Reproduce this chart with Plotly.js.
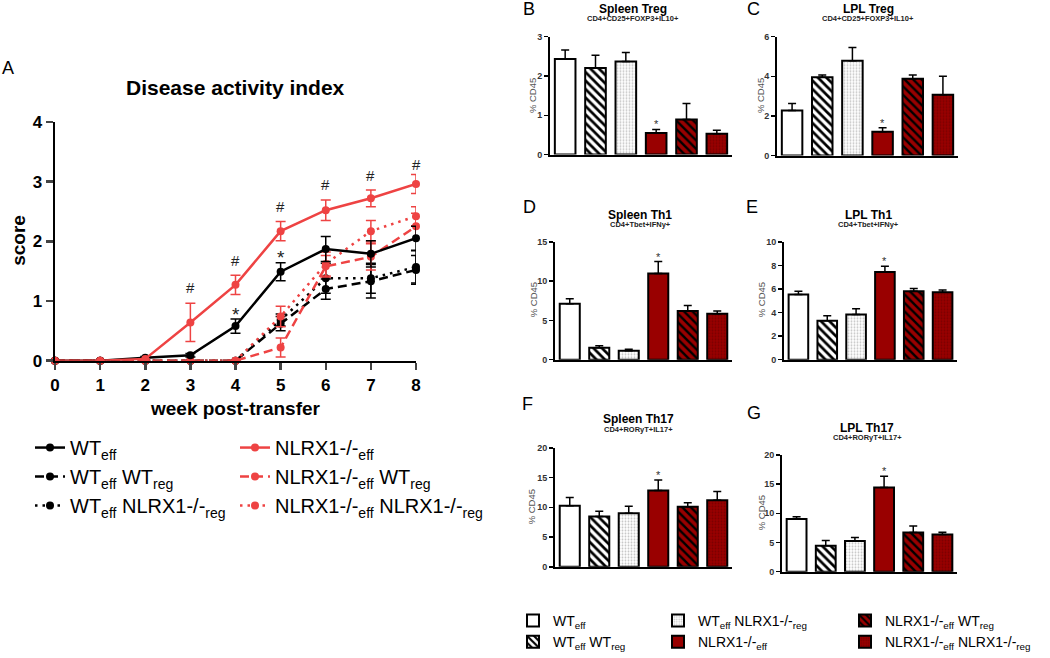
<!DOCTYPE html>
<html><head><meta charset="utf-8">
<script src="https://cdn.plot.ly/plotly-3.0.1.min.js"></script>
<style>html,body{margin:0;padding:0;background:#fff}#chart{width:1050px;height:658px}</style>
</head><body><div id="chart"></div>
<script>
// ---------------- DATA ----------------
// Panel A: disease activity index (mean ± SEM per week)
const weeks = [0, 1, 2, 3, 4, 5, 6, 7, 8];
const wtEff          = [0, 0, 0.05, 0.09, 0.58, 1.49, 1.87, 1.79, 2.05];
const wtEffSem       = [0, 0, 0.02, 0.03, 0.12, 0.15, 0.21, 0.22, 0.20];
const wtEffWtReg     = [0, 0, 0, 0, 0, 0.62, 1.20, 1.33, 1.52];
const wtEffWtRegSem  = [0, 0, 0, 0, 0, 0.12, 0.17, 0.28, 0.24];
const wtEffNlrxReg   = [0, 0, 0, 0, 0, 0.68, 1.38, 1.38, 1.57];
const wtEffNlrxRegSem= [0, 0, 0, 0, 0, 0.10, 0.25, 0.25, 0.27];
const nlrxEff        = [0, 0, 0.03, 0.64, 1.27, 2.17, 2.52, 2.72, 2.96];
const nlrxEffSem     = [0, 0, 0, 0.32, 0.16, 0.16, 0.17, 0.14, 0.16];
const nlrxEffWtReg   = [0, 0, 0, 0, 0, 0.22, 1.58, 1.74, 2.25];
const nlrxEffWtRegSem= [0, 0, 0, 0, 0, 0.16, 0.18, 0.22, 0.22];
const nlrxEffNlrxReg = [0, 0, 0, 0, 0, 0.74, 1.62, 2.17, 2.42];
const nlrxEffNlrxRegSem = [0, 0, 0, 0, 0, 0.17, 0.20, 0.18, 0.16];
const hashWeeks = [3, 4, 5, 6, 7, 8];
const hashY     = [1.23, 1.68, 2.59, 2.95, 3.11, 3.29];
const starWeeks = [4, 5];
const starY     = [0.86, 1.81];

// Panels B-G: % CD45 (mean, SEM) per group
const groups = [
  'WT<sub>eff</sub>',
  'WT<sub>eff</sub> WT<sub>reg</sub>',
  'WT<sub>eff</sub> NLRX1-/-<sub>reg</sub>',
  'NLRX1-/-<sub>eff</sub>',
  'NLRX1-/-<sub>eff</sub> WT<sub>reg</sub>',
  'NLRX1-/-<sub>eff</sub> NLRX1-/-<sub>reg</sub>'
];
const spleenTreg    = [2.43, 2.20, 2.37, 0.55, 0.89, 0.53];
const spleenTregSem = [0.23, 0.33, 0.23, 0.09, 0.41, 0.09];
const lplTreg       = [2.28, 3.95, 4.78, 1.20, 3.87, 3.07];
const lplTregSem    = [0.35, 0.12, 0.67, 0.20, 0.20, 0.93];
const spleenTh1     = [7.12, 1.51, 1.13, 10.98, 6.20, 5.86];
const spleenTh1Sem  = [0.63, 0.25, 0.21, 1.50, 0.71, 0.34];
const lplTh1        = [5.53, 3.30, 3.83, 7.43, 5.81, 5.73];
const lplTh1Sem     = [0.28, 0.42, 0.50, 0.50, 0.22, 0.19];
const spleenTh17    = [10.28, 8.44, 9.00, 12.83, 10.10, 11.20];
const spleenTh17Sem = [1.39, 0.89, 1.17, 1.77, 0.68, 1.47];
const lplTh17       = [9.01, 4.45, 5.24, 14.42, 6.70, 6.37];
const lplTh17Sem    = [0.40, 0.90, 0.62, 1.92, 1.13, 0.39];
const panelTitles    = ['Spleen Treg', 'LPL Treg', 'Spleen Th1', 'LPL Th1', 'Spleen Th17', 'LPL Th17'];
const panelSubtitles = ['CD4+CD25+FOXP3+IL10+', 'CD4+CD25+FOXP3+IL10+', 'CD4+Tbet+IFNy+', 'CD4+Tbet+IFNy+', 'CD4+RORyT+IL17+', 'CD4+RORyT+IL17+'];
const panelLetters   = ['B', 'C', 'D', 'E', 'F', 'G'];
const panelYMax      = [3, 6, 15, 10, 20, 20];
const panelYDtick    = [1, 2, 5, 2, 5, 5];
const sigGroup       = 3; // '*' above NLRX1-/- eff

// ---------------- LAYOUT HELPERS ----------------
const W = 1050, H = 658;
const px = v => v / W;
const py = v => 1 - v / H;
const FONT = 'Liberation Sans, Arial, Helvetica, sans-serif';
const RED = '#ee4343';
const DARKRED = '#990000';

const panelMeans = [spleenTreg, lplTreg, spleenTh1, lplTh1, spleenTh17, lplTh17];
const panelSems  = [spleenTregSem, lplTregSem, spleenTh1Sem, lplTh1Sem, spleenTh17Sem, lplTh17Sem];

// pixel geometry of each bar panel
const geo = [
  {dx: [550, 732], dy: [156, 37],  title: [633, 9],   sub: 19,  letter: [529, 9],   ylab: [532, 97]},
  {dx: [777, 958], dy: [157, 37],  title: [868, 9],   sub: 19,  letter: [753, 9],   ylab: [760, 97]},
  {dx: [555, 732], dy: [363, 244], title: [640, 217], sub: 227, letter: [529, 209], ylab: [533, 303]},
  {dx: [784, 957], dy: [363, 244], title: [868, 217], sub: 227, letter: [752, 209], ylab: [761, 303]},
  {dx: [555, 732], dy: [572, 452], title: [638, 423], sub: 433, letter: [527, 408], ylab: [531, 512]},
  {dx: [782, 957], dy: [577, 459], title: [867, 432], sub: 442, letter: [754, 417], ylab: [761, 518]}
];

const barStyles = [
  {color: 'white'},
  {color: 'white', pattern: {shape: '\\', fgcolor: 'black', bgcolor: 'white', size: 6, solidity: 0.45}},
  {color: 'white', pattern: {shape: '.', fgcolor: '#c4c4c4', bgcolor: 'white', size: 3, solidity: 0.3}},
  {color: DARKRED},
  {color: DARKRED, pattern: {shape: '\\', fgcolor: 'black', bgcolor: DARKRED, size: 6, solidity: 0.4}},
  {color: DARKRED, pattern: {shape: '.', fgcolor: '#7a0000', bgcolor: DARKRED, size: 3, solidity: 0.3}}
];
const barLegends = ['legend3', 'legend3', 'legend4', 'legend4', 'legend5', 'legend5'];

// ---------------- TRACES ----------------
const traces = [];
function lineTrace(name, y, sem, color, dash, legend, rank) {
  return {
    type: 'scatter', mode: 'lines+markers', x: weeks, y: y, name: name,
    legend: legend, legendgroup: name, legendrank: rank,
    line: {color: color, width: 2.5, dash: dash},
    marker: {color: color, size: 8},
    error_y: {type: 'data', array: sem, visible: true, color: color, thickness: 1.5, width: 5},
    cliponaxis: false, xaxis: 'x', yaxis: 'y', hoverinfo: 'x+y'
  };
}
traces.push(lineTrace('WT<sub>eff</sub> NLRX1-/-<sub>reg</sub>', wtEffNlrxReg, wtEffNlrxRegSem, 'black', '2.5px,5px', 'legend', 3));
traces.push(lineTrace('WT<sub>eff</sub> WT<sub>reg</sub>', wtEffWtReg, wtEffWtRegSem, 'black', '9px,5px', 'legend', 2));
traces.push(lineTrace('NLRX1-/-<sub>eff</sub> NLRX1-/-<sub>reg</sub>', nlrxEffNlrxReg, nlrxEffNlrxRegSem, RED, '2.5px,5px', 'legend2', 3));
traces.push(lineTrace('NLRX1-/-<sub>eff</sub> WT<sub>reg</sub>', nlrxEffWtReg, nlrxEffWtRegSem, RED, '9px,5px', 'legend2', 2));
traces.push(lineTrace('WT<sub>eff</sub>', wtEff, wtEffSem, 'black', 'solid', 'legend', 1));
traces.push(lineTrace('NLRX1-/-<sub>eff</sub>', nlrxEff, nlrxEffSem, RED, 'solid', 'legend2', 1));

for (let p = 0; p < 6; p++) {
  for (let g = 0; g < 6; g++) {
    const st = barStyles[g];
    const marker = {color: st.color, line: {color: 'black', width: 2}};
    if (st.pattern) marker.pattern = st.pattern;
    traces.push({
      type: 'bar', x: [groups[g]], y: [panelMeans[p][g]], width: 0.68,
      name: groups[g], legendgroup: 'grp' + g, legend: barLegends[g], legendrank: g + 1,
      showlegend: p === 0, marker: marker,
      error_y: {type: 'data', symmetric: false, array: [panelSems[p][g]], arrayminus: [0],
                color: 'black', thickness: 1.5, width: 4},
      xaxis: 'x' + (p + 2), yaxis: 'y' + (p + 2), cliponaxis: false, hoverinfo: 'y'
    });
  }
}

// ---------------- LAYOUT ----------------
const legendBase = {xanchor: 'left', yanchor: 'top', bgcolor: 'rgba(0,0,0,0)', traceorder: 'normal'};
const layout = {
  width: W, height: H, margin: {l: 0, r: 0, t: 0, b: 0},
  paper_bgcolor: 'white', plot_bgcolor: 'rgba(0,0,0,0)',
  font: {family: FONT, color: 'black'},
  barmode: 'overlay', showlegend: true,
  xaxis: {
    domain: [px(55), px(416)], range: [0, 8], tickvals: weeks, ticks: 'outside', ticklen: 7, tickwidth: 2.5,
    showline: true, linewidth: 2.5, linecolor: 'black', showgrid: false, zeroline: false,
    tickfont: {size: 17, weight: 'bold', color: 'black'}, anchor: 'y', fixedrange: true
  },
  yaxis: {
    domain: [py(364), py(123)], range: [0, 4], dtick: 1, ticks: 'outside', ticklen: 7, tickwidth: 2.5,
    showline: true, linewidth: 2.5, linecolor: 'black', showgrid: false, zeroline: false,
    tickfont: {size: 17, weight: 'bold', color: 'black'}, anchor: 'x', fixedrange: true
  },
  legend:  Object.assign({x: px(30),  y: py(432), font: {size: 20, color: 'black'}, tracegroupgap: 4}, legendBase),
  legend2: Object.assign({x: px(235), y: py(432), font: {size: 20, color: 'black'}, tracegroupgap: 4}, legendBase),
  legend3: Object.assign({x: px(513), y: py(611), font: {size: 14, color: 'black'}, tracegroupgap: 0}, legendBase),
  legend4: Object.assign({x: px(658), y: py(611), font: {size: 14, color: 'black'}, tracegroupgap: 0}, legendBase),
  legend5: Object.assign({x: px(845), y: py(611), font: {size: 14, color: 'black'}, tracegroupgap: 0}, legendBase),
  annotations: []
};

const ann = layout.annotations;
function paperText(text, xPix, yPix, font, extra) {
  ann.push(Object.assign({text: text, x: px(xPix), y: py(yPix), xref: 'paper', yref: 'paper',
    xanchor: 'center', yanchor: 'middle', showarrow: false, font: font}, extra || {}));
}
// Panel A texts
paperText('A', 8, 69, {size: 18});
paperText('<b>Disease activity index</b>', 235, 88, {size: 21});
paperText('<b>score</b>', 19, 243, {size: 19}, {textangle: -90});
paperText('<b>week post-transfer</b>', 235, 412, {size: 19});
hashWeeks.forEach((w, i) => ann.push({text: '#', x: w, y: hashY[i], xref: 'x', yref: 'y', xanchor: 'center', yanchor: 'middle', showarrow: false, font: {size: 15, color: '#222'}}));
starWeeks.forEach((w, i) => ann.push({text: '*', x: w, y: starY[i], xref: 'x', yref: 'y', xanchor: 'center', yanchor: 'middle', yshift: -5, showarrow: false, font: {size: 19, color: '#222'}}));

// Bar panels
for (let p = 0; p < 6; p++) {
  const g = geo[p];
  const n = p + 2;
  layout['xaxis' + n] = {
    domain: [px(g.dx[0]), px(g.dx[1])], type: 'category', categoryorder: 'array', categoryarray: groups,
    range: [-0.5, 5.5], showticklabels: false, ticks: '', showline: true, linewidth: 2, linecolor: 'black',
    showgrid: false, zeroline: false, anchor: 'y' + n, fixedrange: true
  };
  layout['yaxis' + n] = {
    domain: [py(g.dy[0]), py(g.dy[1])], range: [0, panelYMax[p]], dtick: panelYDtick[p],
    ticks: 'outside', ticklen: 4, tickwidth: 1.5, tickcolor: 'black', showline: true, linewidth: 2, linecolor: 'black',
    showgrid: false, zeroline: false, tickfont: {size: 9, weight: 'bold', color: '#333'}, anchor: 'x' + n, fixedrange: true
  };
  paperText(panelLetters[p], g.letter[0], g.letter[1], {size: 18});
  paperText('<b>' + panelTitles[p] + '</b>', g.title[0], g.title[1], {size: 12});
  paperText('<b>' + panelSubtitles[p] + '</b>', g.title[0], g.sub, {size: 7.5, color: '#222'});
  paperText('% CD45', g.ylab[0], g.ylab[1], {size: 9.5, color: '#555'}, {textangle: -90});
  ann.push({text: '*', x: groups[sigGroup], y: panelMeans[p][sigGroup] + panelSems[p][sigGroup], xref: 'x' + n, yref: 'y' + n,
            xanchor: 'center', yanchor: 'bottom', yshift: -3, showarrow: false, font: {size: 11, color: '#333'}});
}

Plotly.newPlot('chart', traces, layout, {displayModeBar: false, staticPlot: true});
</script>
</body></html>
